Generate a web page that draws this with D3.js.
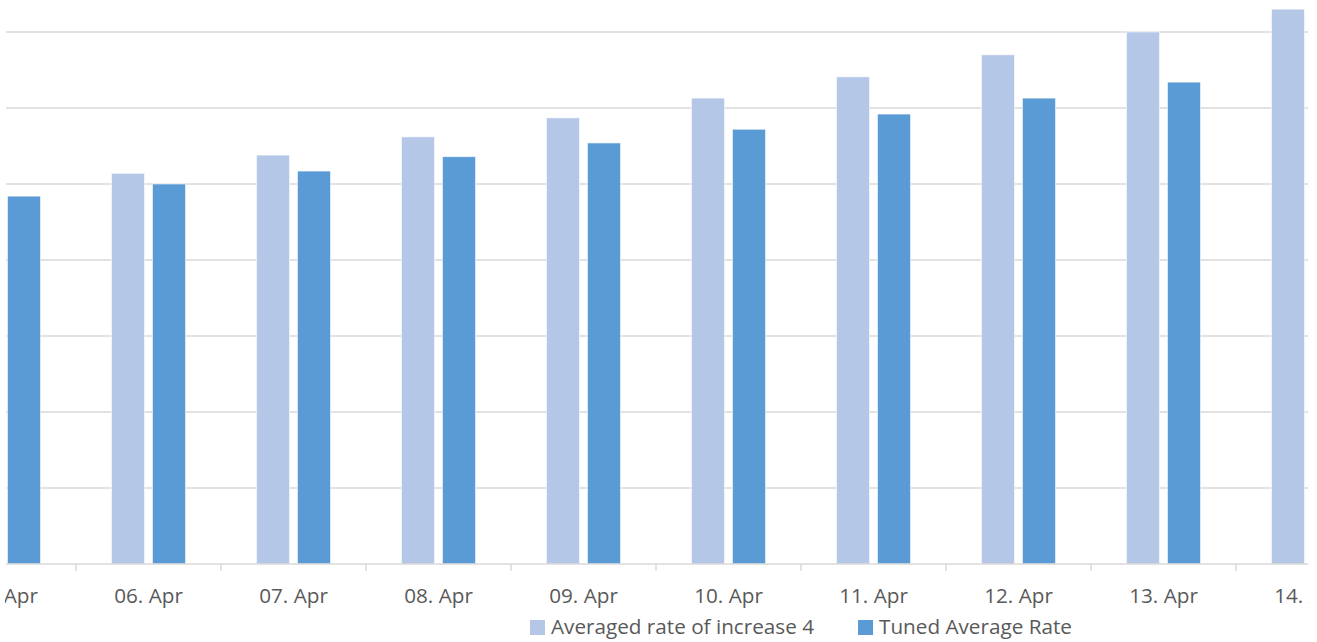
<!DOCTYPE html>
<html>
<head>
<meta charset="utf-8">
<script src="https://cdn.jsdelivr.net/npm/d3@7"></script>
<style>
  html, body { margin: 0; padding: 0; background: #fff; }
  svg { display: block; font-family: "Open Sans", "Noto Sans", sans-serif; }
</style>
</head>
<body>
<svg id="chart" width="1317" height="642"></svg>
<script>
// Daily categories shown on the x axis
const categories = ["05. Apr", "06. Apr", "07. Apr", "08. Apr", "09. Apr",
                    "10. Apr", "11. Apr", "12. Apr", "13. Apr", "14. Apr"];

// Series names (legend order)
const seriesNames = ["Averaged rate of increase 4", "Tuned Average Rate"];

// Series values per day
const averagedRate = [4.92, 5.14, 5.38, 5.62, 5.87, 6.13, 6.41, 6.70, 7.00, 7.30];
const tunedRate    = [4.84, 5.00, 5.17, 5.36, 5.54, 5.72, 5.92, 6.13, 6.34, 6.55];

// Horizontal gridline values
const gridValues = [1, 2, 3, 4, 5, 6, 7];

const colors = ["#B4C7E7", "#5B9BD5"];
const fontSize = "20.7px";

const W = 1317, H = 642;
const svg = d3.select("#chart");

// Visible window of the plot
const clipLeft = 6, clipRight = 1308;
const baseY = 564, topY = 32;

const rows = categories.map((c, i) => ({
  cat: c,
  values: [averagedRate[i], tunedRate[i]]
}));

const x0 = d3.scaleBand().domain(categories).range([-69, 1381]).paddingInner(0).paddingOuter(0);
const x1 = d3.scaleBand().domain(seriesNames).range([0, x0.bandwidth()])
  .paddingInner(8 / 41).paddingOuter(0.866);
const y = d3.scaleLinear().domain([0, 7]).range([baseY, topY]);

svg.append("defs").append("clipPath").attr("id", "plotClip")
  .append("rect").attr("x", clipLeft - 1).attr("y", 0)
  .attr("width", clipRight - clipLeft + 2).attr("height", H);

const g = svg.append("g").attr("clip-path", "url(#plotClip)");

// Gridlines
g.append("g").selectAll("line").data(gridValues).join("line")
  .attr("x1", clipLeft).attr("x2", clipRight)
  .attr("y1", d => y(d)).attr("y2", d => y(d))
  .attr("stroke", "#D9D9D9").attr("stroke-width", 1.5);

// Bars
const groups = g.append("g").selectAll("g").data(rows).join("g")
  .attr("transform", d => `translate(${x0(d.cat)},0)`);

groups.selectAll("rect")
  .data(d => d.values.map((v, j) => ({ name: seriesNames[j], v, j })))
  .join("rect")
  .attr("x", d => x1(d.name))
  .attr("width", x1.bandwidth())
  .attr("y", d => y(d.v))
  .attr("height", d => baseY - y(d.v))
  .attr("fill", d => colors[d.j])
  .attr("stroke", "#ffffff").attr("stroke-opacity", 0.55).attr("stroke-width", 1);

// Category axis
const xAxis = d3.axisBottom(x0).tickSize(0).tickPadding(0);
const axisG = g.append("g").attr("transform", `translate(0,${baseY})`).call(xAxis);
axisG.select(".domain").remove();
axisG.selectAll(".tick text")
  .attr("y", 39).attr("dy", null)
  .attr("fill", "#595959")
  .style("font-size", fontSize)
  .style("font-family", "'Open Sans', sans-serif");

// Axis baseline and category separators
g.append("line")
  .attr("x1", clipLeft).attr("x2", clipRight)
  .attr("y1", baseY).attr("y2", baseY)
  .attr("stroke", "#D9D9D9").attr("stroke-width", 1.5);

const boundaries = categories.slice(1).map(c => x0(c));
g.append("g").selectAll("line").data(boundaries).join("line")
  .attr("x1", d => d).attr("x2", d => d)
  .attr("y1", baseY).attr("y2", baseY + 7)
  .attr("stroke", "#D9D9D9").attr("stroke-width", 1.5);

// Legend
const legend = svg.append("g").attr("transform", "translate(530,0)");
let lx = 0;
seriesNames.forEach((name, j) => {
  const item = legend.append("g").attr("transform", `translate(${lx},0)`);
  item.append("rect").attr("x", 0).attr("y", 620).attr("width", 15).attr("height", 15)
    .attr("fill", colors[j]);
  const t = item.append("text").attr("x", 21).attr("y", 634)
    .attr("fill", "#595959")
    .style("font-size", fontSize)
    .text(name);
  lx += 21 + t.node().getComputedTextLength() + 44;
});
</script>
</body>
</html>
